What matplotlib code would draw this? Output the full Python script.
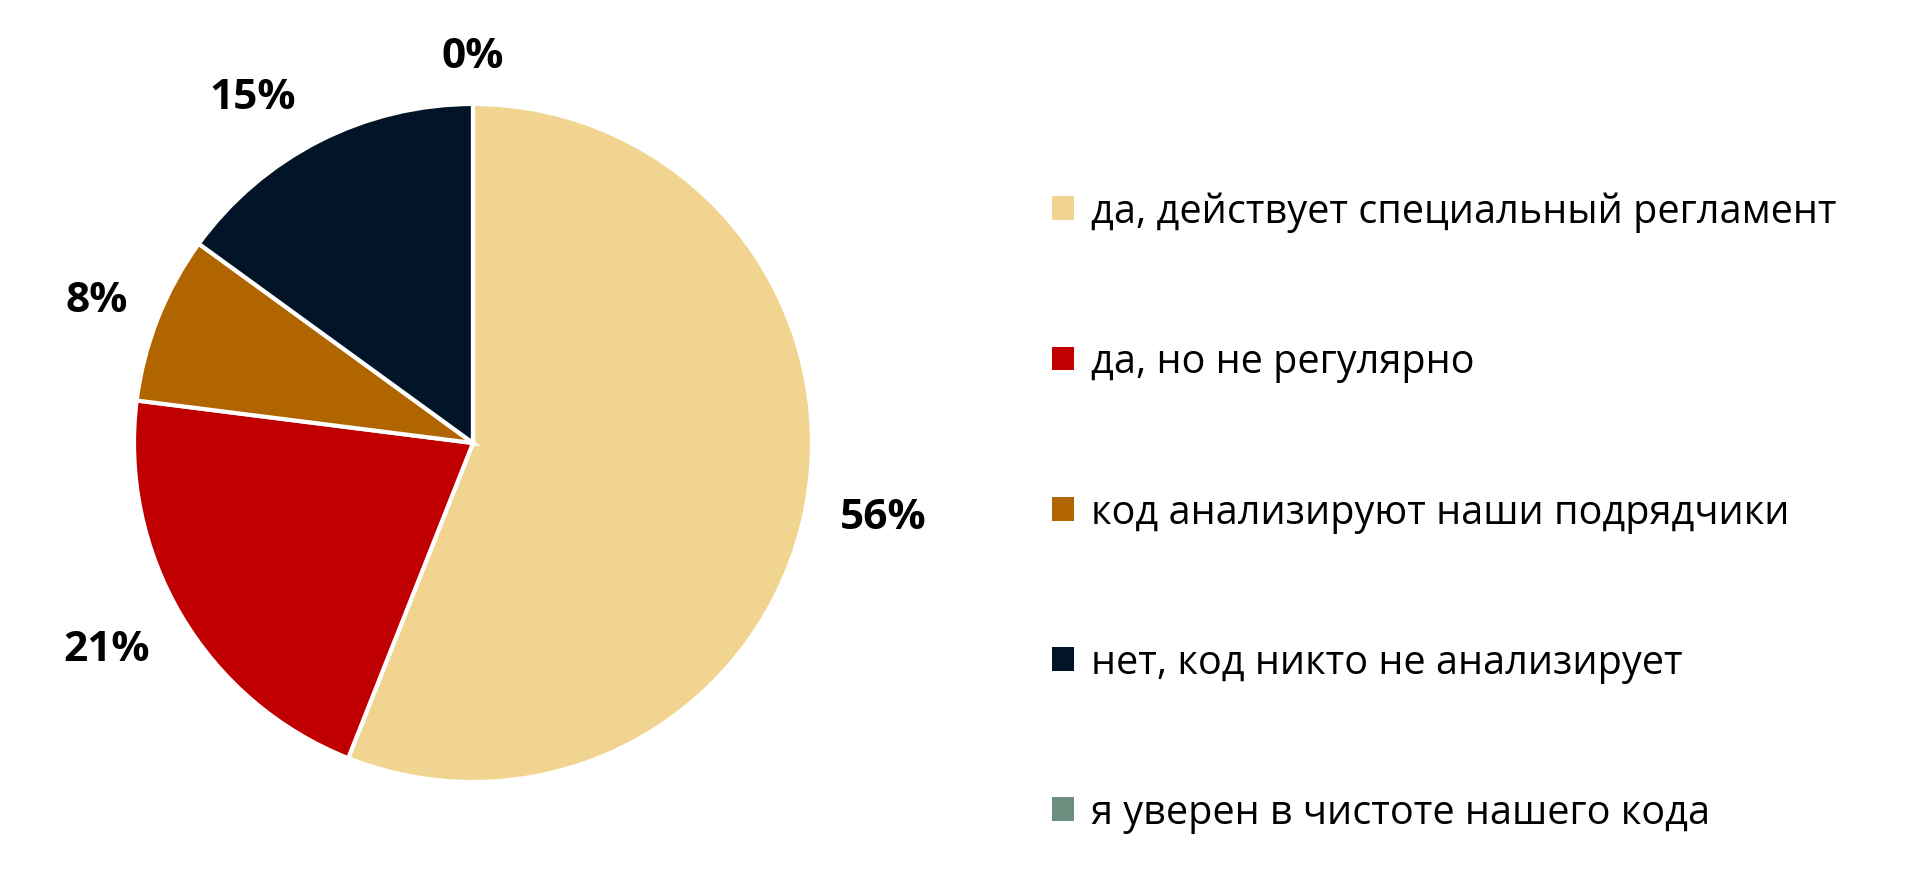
import matplotlib.pyplot as plt

categories = ['да, действует специальный регламент',
              'да, но не регулярно',
              'код анализируют наши подрядчики',
              'нет, код никто не анализирует',
              'я уверен в чистоте нашего кода']
values = [56, 21, 8, 15, 0]
colors = ['#F1D48F', '#C00000', '#B06500', '#021528', '#6E8F80']
# label positions in data units (pie radius = 1)
label_pos = [(1.21, -0.22), (-1.08, -0.61), (-1.11, 0.42), (-0.65, 1.02), (0.0, 1.14)]

plt.rcParams['font.family'] = ['Open Sans', 'DejaVu Sans']

fig = plt.figure(figsize=(19.07, 8.87), dpi=100)
W, H = 1907, 887
cx, cy, r = 473, 887 - 444, 339
ax = fig.add_axes([(cx - r) / W, (cy - r) / H, 2 * r / W, 2 * r / H])

wedges, _ = ax.pie(values, colors=colors, startangle=90, counterclock=False,
                   radius=1, wedgeprops=dict(edgecolor='white', linewidth=3))
ax.set_xlim(-1, 1)
ax.set_ylim(-1, 1)
ax.set_aspect('equal')
ax.axis('off')

for v, (x, y) in zip(values, label_pos):
    ax.text(x, y, f'{v}%', ha='center', va='center', fontsize=30.5,
            fontweight='bold', color='black', clip_on=False)

leg = fig.legend(wedges, categories, loc='upper left',
                 bbox_to_anchor=(1036 / W, 1 - 177 / H), frameon=False,
                 fontsize=28.5, handlelength=0.55, handleheight=0.55,
                 handletextpad=0.45, labelspacing=2.77, borderaxespad=0)
for h in leg.legend_handles:
    h.set_edgecolor('none')

fig.savefig('out.png', dpi=100)
